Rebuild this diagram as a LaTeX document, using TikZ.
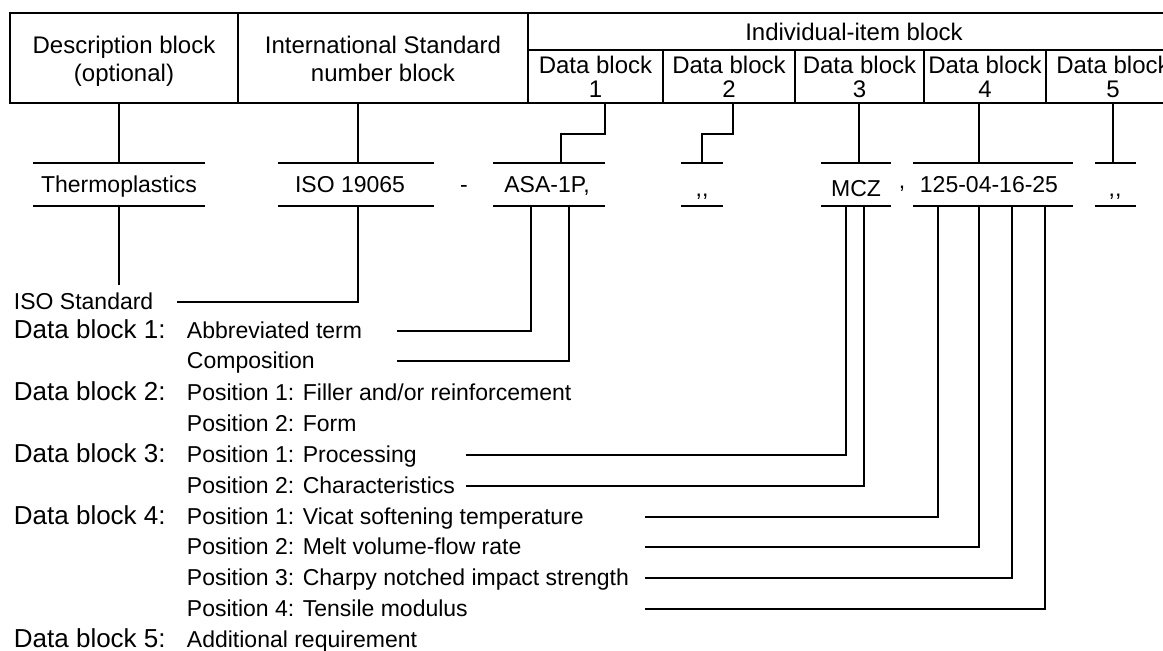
\documentclass[tikz,border=0pt]{standalone}
\usepackage{fontspec}
\setmainfont{Liberation Sans}

\tikzset{
  cell/.style={draw, inner sep=0pt, align=center, font=\fontsize{24}{27}\selectfont},
  head/.style={anchor=base, inner sep=0pt, font=\fontsize{24}{27}\selectfont},
  bar/.style={minimum height=41, inner sep=0pt},
  val/.style={anchor=base, inner sep=0pt, font=\fontsize{23}{27}\selectfont},
  lbl/.style={anchor=base west, inner sep=0pt, font=\fontsize{26}{30}\selectfont},
  item/.style={anchor=base west, inner sep=0pt, font=\fontsize{23}{27}\selectfont},
}

\begin{document}
\begin{tikzpicture}[x=1pt, y=-1pt, line width=1.9pt]
\useasboundingbox (0,0) rectangle (1163,651);
\clip (0,0) rectangle (1163,651);

% Header table
\node[cell, minimum width=228, minimum height=90] (desc) at (124,58) {};
\node[cell, minimum width=290, minimum height=90] (intl) at (383,58) {};
\node[head] (descA) at (124,53) {Description block};
\node[head] (descB) at (124,81) {(optional)};
\node[head] (intlA) at (383,53) {International Standard};
\node[head] (intlB) at (383,81) {number block};
\node[cell, minimum width=652, minimum height=37] (indiv) at (854,31.5) {Individual-item block};
\foreach \i/\x/\w in {1/595.5/135, 2/729/132, 3/859.5/129, 4/985/122, 5/1113/134}
  \node[cell, minimum width=\w, minimum height=53, font=\fontsize{24}{24}\selectfont] (dbk\i) at (\x,76.5) {Data block\\\i};

% Bars round the designation values
\node[bar, minimum width=170] (thermoBar) at (119,184.5) {};
\node[bar, minimum width=154] (isoBar) at (356,184.5) {};
\node[bar, minimum width=110] (asaBar) at (549,184.5) {};
\node[bar, minimum width=40] (fillBar) at (702,184.5) {};
\node[bar, minimum width=68] (mczBar) at (856,184.5) {};
\node[bar, minimum width=158] (propBar) at (993,184.5) {};
\node[bar, minimum width=39] (addBar) at (1115.5,184.5) {};
\foreach \b in {thermoBar,isoBar,asaBar,fillBar,mczBar,propBar,addBar}
  \draw (\b.north west) -- (\b.north east) (\b.south west) -- (\b.south east);

% Designation values
\node[val] (thermo) at (119,192) {Thermoplastics};
\node[val] (iso) at (350,192) {ISO 19065};
\node[val] (dash) at (464,192) {-};
\node[val] (asa) at (547,192) {ASA-1P,};
\node[val] (fill) at (702,196) {,{},};
\node[val] (mcz) at (856,196) {MCZ};
\node[val] (sep) at (902,188) {,};
\node[val] (prop) at (989,192) {125-04-16-25};
\node[val] (add) at (1115,196) {,{},};

% Table to bars
\draw (thermoBar.north) -- (thermoBar.north |- desc.south);
\draw ([xshift=2pt]isoBar.north) -- ([xshift=2pt]isoBar.north |- intl.south);
\draw (asaBar.north east |- dbk1.south) -- ++(0,30) -| ([xshift=12pt]asaBar.north);
\draw ([xshift=4pt]dbk2.south) -- ++(0,30) -| (fillBar.north);
\draw ([xshift=-0.5pt]dbk3.south) -- ([xshift=-0.5pt]dbk3.south |- mczBar.north);
\draw ([xshift=-6pt]dbk4.south) -- ([xshift=-6pt]dbk4.south |- propBar.north);
\draw (dbk5.south) -- (dbk5.south |- addBar.north);

% Legend
\node[item] (isoStd) at (13,309) {ISO Standard};
\node[lbl] (lbl1) at (13,338) {Data block 1:};
\node[item] (abbr) at (186,338) {Abbreviated term};
\node[item] (comp) at (186,368) {Composition};
\node[lbl] (lbl2) at (13,400) {Data block 2:};
\node[item] (filler) at (186,400) {Position 1: Filler and/or reinforcement};
\node[item] (form) at (186,431) {Position 2: Form};
\node[lbl] (lbl3) at (13,462) {Data block 3:};
\node[item] (proc) at (186,462) {Position 1: Processing};
\node[item] (char) at (186,493) {Position 2: Characteristics};
\node[lbl] (lbl4) at (13,524) {Data block 4:};
\node[item] (vicat) at (186,524) {Position 1: Vicat softening temperature};
\node[item] (mvr) at (186,554) {Position 2: Melt volume-flow rate};
\node[item] (charpy) at (186,585) {Position 3: Charpy notched impact strength};
\node[item] (tens) at (186,616) {Position 4: Tensile modulus};
\node[lbl] (lbl5) at (13,647) {Data block 5:};
\node[item] (addReq) at (186,647) {Additional requirement};

% Free ends of the leader lines
\coordinate (isoEnd) at (177,302);
\coordinate (abbrEnd) at (397,331);
\coordinate (compEnd) at (397,361);
\coordinate (procEnd) at (466,455);
\coordinate (charEnd) at (466,486);
\coordinate (vicatEnd) at (645,517);
\coordinate (mvrEnd) at (645,547);
\coordinate (charpyEnd) at (645,578);
\coordinate (tensEnd) at (645,609);

% Bars to legend
\draw (thermoBar.south) -- ++(0,79);
\draw ([xshift=2pt]isoBar.south) |- (isoEnd);
\draw ([xshift=-18pt]asaBar.south) |- (abbrEnd);
\draw ([xshift=20pt]asaBar.south) |- (compEnd);
\draw ([xshift=-10pt]mczBar.south) |- (procEnd);
\draw ([xshift=8pt]mczBar.south) |- (charEnd);
\draw ([xshift=-55pt]propBar.south) |- (vicatEnd);
\draw ([xshift=-14pt]propBar.south) |- (mvrEnd);
\draw ([xshift=19pt]propBar.south) |- (charpyEnd);
\draw ([xshift=52pt]propBar.south) |- (tensEnd);
\end{tikzpicture}
\end{document}
